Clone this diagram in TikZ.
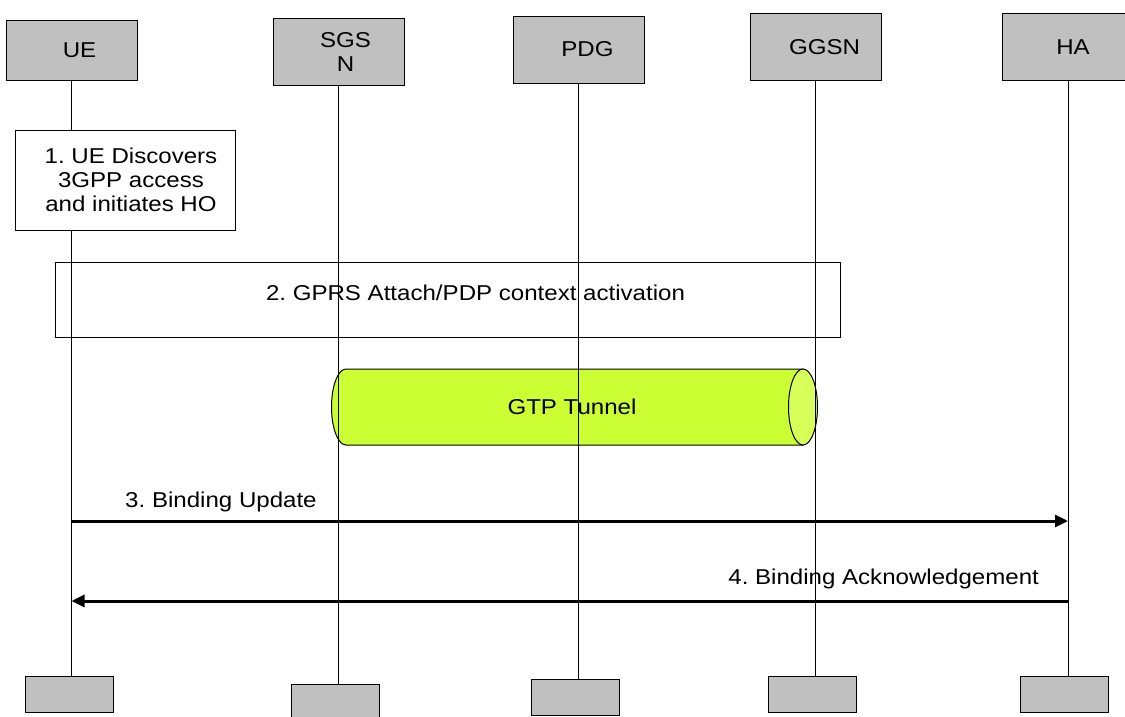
\documentclass[tikz,border=0pt]{standalone}
\usepackage{fontspec}
\setmainfont[FakeStretch=1.12]{Liberation Sans}
\usetikzlibrary{shapes.geometric, arrows.meta, positioning}
\definecolor{boxgray}{RGB}{192,192,192}
\definecolor{tunnelgreen}{RGB}{204,255,51}
\definecolor{tunnelcap}{RGB}{214,255,90}
\frenchspacing

\begin{document}
\begin{tikzpicture}[
    x=1pt, y=-1pt,
    font=\fontsize{21.5}{24}\selectfont,
    % style for the network entities at the top
    entity/.style={
      rectangle,
      draw=black,
      fill=boxgray,
      minimum width=131pt,
      minimum height=67pt,
      inner sep=0pt
    },
    % style for the small boxes at the lower end of the lifelines
    endbox/.style={
      rectangle,
      draw=black,
      fill=boxgray,
      minimum width=88pt,
      minimum height=36pt,
      inner sep=0pt
    },
    % style for the procedure steps
    stepbox/.style={
      rectangle,
      draw=black,
      inner sep=0pt,
      align=center
    },
    lifeline/.style={draw=black, line width=1pt},
    msg/.style={line width=3pt, -{Triangle[length=13pt,width=12pt]}},
    msglabel/.style={inner sep=2pt}
  ]

  \path[use as bounding box, fill=white] (0,0) rectangle (1125,716);

  % --- ENTITIES ---
  \node[entity, minimum height=60pt, label={[xshift=8pt]center:UE}] (ue) at (71.5,50) {};
  \node[entity, label={[xshift=7pt, align=center]center:SGS\\N}] (sgsn) at (338.5,51.5) {};
  \node[entity, label={[xshift=9pt]center:PDG}] (pdg) at (578.5,49.5) {};
  \node[entity, label={[xshift=9pt]center:GGSN}] (ggsn) at (815.5,47) {};
  \node[entity, label={[xshift=5pt]center:HA}] (ha) at (1068,47) {};

  % end boxes
  \node[endbox] (ue-end) at (69,694) {};
  \node[endbox] (sgsn-end) at (335,702) {};
  \node[endbox] (pdg-end) at (575,697) {};
  \node[endbox] (ggsn-end) at (812,694) {};
  \node[endbox] (ha-end) at (1064.5,694) {};

  % GTP tunnel between SGSN and GGSN
  \draw[line width=1pt, fill=tunnelgreen] (803,369) -- (346,369)
    arc[start angle=270, end angle=90, x radius=14.5, y radius=38]
    -- (803,445) -- cycle;
  \draw[line width=1pt, fill=tunnelcap] (803,407) ellipse[x radius=14.5, y radius=38];
  \node (tunnel) at (572,407) {GTP Tunnel};

  % --- LIFELINES ---
  \foreach \n in {ue,sgsn,pdg,ggsn,ha}
    \draw[lifeline] (\n.south) -- (\n.south |- \n-end.north);

  % --- STEPS ---
  \node[stepbox, fill=white, minimum width=220pt, minimum height=100pt,
    label={[xshift=6pt, align=center]center:1. UE Discovers\\3GPP access\\and initiates HO}] (discover) at (125,180) {};
  \node[stepbox, minimum width=785pt, minimum height=75pt,
    label={[xshift=28pt, yshift=7pt]center:2. GPRS Attach/PDP context activation}] (attach) at (447.5,299.5) {};

  % --- MESSAGES ---
  \coordinate (bu-ue) at (ue.south |- 0,521);
  \coordinate (bu-ha) at (ha.south |- 0,521);
  \coordinate (ba-ha) at (ha.south |- 0,601);
  \coordinate (ba-ue) at (ue.south |- 0,601);
  \draw[msg] (bu-ue) -- (bu-ha) node[msglabel, pos=0.15, above=6pt] {3. Binding Update};
  \draw[msg] (ba-ha) -- (ba-ue) node[msglabel, pos=0.185, above=9pt] {4. Binding Acknowledgement};

\end{tikzpicture}
\end{document}
